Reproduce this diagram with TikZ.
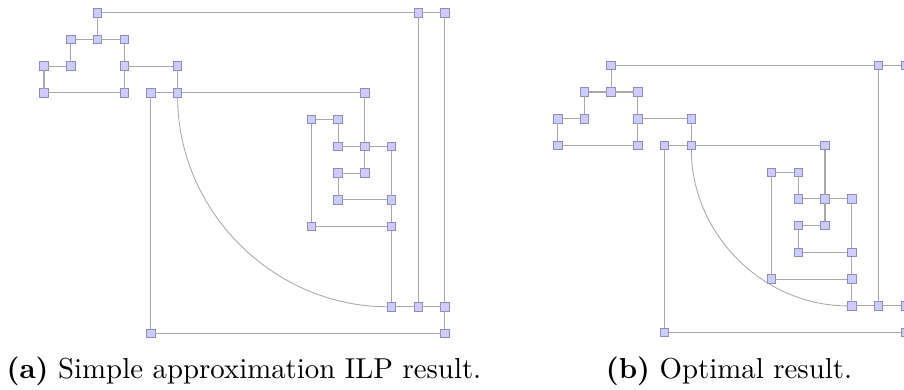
\documentclass[tikz,border=0pt]{standalone}
\usetikzlibrary{calc}
\definecolor{nodefill}{RGB}{204,204,255}
\definecolor{nodeborder}{RGB}{140,140,190}
\definecolor{edgegray}{RGB}{168,168,168}
\newcommand\vx[3]{\node[vtx] (\pfx-#1) at ({\ox+26.73*#2},{\oy+26.73*#3}) {};}
\newcommand\panelEdges{%
  \draw[edge] (\pfx-T) -- (\pfx-R1) -- (\pfx-R2);
  \draw[edge] (\pfx-T) -- (\pfx-A2);
  \draw[edge] (\pfx-A1) -- (\pfx-A2) -- (\pfx-A3);
  \draw[edge] (\pfx-A1) -- (\pfx-B2);
  \draw[edge] (\pfx-B1) -- (\pfx-B2);
  \draw[edge] (\pfx-B1) -- (\pfx-C1) -- (\pfx-C2);
  \draw[edge] (\pfx-A3) -- (\pfx-B3) -- (\pfx-C2);
  \draw[edge] (\pfx-B3) -- (\pfx-B4) -- (\pfx-C4);
  \draw[edge] (\pfx-C3) -- (\pfx-C4) -- (\pfx-C5);
  \draw[edge] (\pfx-C3) -- (\pfx-J1) -- (\pfx-J2) -- (\pfx-I3);
  \draw[arcline] (\pfx-C4) .. controls ($(\pfx-C4)!0.5523!(\pfx-C4 |- \pfx-I1)$) and ($(\pfx-I1)!0.5523!(\pfx-C4 |- \pfx-I1)$) .. (\pfx-I1);
  \draw[edge] (\pfx-I1) -- (\pfx-I2) -- (\pfx-I3);
  \draw[edge] (\pfx-I2) -- (\pfx-R1);
  \draw[edge] (\pfx-I3) -- (\pfx-R2);
  \draw[edge] (\pfx-C5) -- (\pfx-E2);
  \draw[edge] (\pfx-H1) -- (\pfx-D1) -- (\pfx-D2) -- (\pfx-E1);
  \draw[edge] (\pfx-E1) -- (\pfx-E2) -- (\pfx-E3);
  \draw[edge] (\pfx-E3) -- (\pfx-G2) -- (\pfx-H2) -- (\pfx-I1);
  \draw[edge] (\pfx-E2) -- (\pfx-F2) -- (\pfx-F1) -- (\pfx-G1) -- (\pfx-G2);
  \draw[edge] (\pfx-H1) -- (\pfx-H2);
}
\begin{document}
\begin{tikzpicture}[x=0.347pt,y=-0.347pt,
  vtx/.style={draw=nodeborder, fill=nodefill, line width=0.3pt, minimum size=2.95pt, inner sep=0pt, outer sep=0pt},
  edge/.style={draw=edgegray, line width=0.36pt},
  arcline/.style={draw=edgegray, line width=0.3pt},
  captext/.style={anchor=base, inner sep=0pt, font=\normalsize}]
\useasboundingbox (0,0) rectangle (904,390);
% panel (a)
\def\pfx{a}\def\ox{44}\def\oy{12.7}
\vx{T}{2}{0}\vx{R1}{14}{0}\vx{R2}{15}{0}
\vx{A1}{1}{1}\vx{A2}{2}{1}\vx{A3}{3}{1}
\vx{B1}{0}{2}\vx{B2}{1}{2}\vx{B3}{3}{2}\vx{B4}{5}{2}
\vx{C1}{0}{3}\vx{C2}{3}{3}\vx{C3}{4}{3}\vx{C4}{5}{3}\vx{C5}{12}{3}
\vx{D1}{10}{4}\vx{D2}{11}{4}
\vx{E1}{11}{5}\vx{E2}{12}{5}\vx{E3}{13}{5}
\vx{F1}{11}{6}\vx{F2}{12}{6}
\vx{G1}{11}{7}\vx{G2}{13}{7}
\vx{H1}{10}{8}\vx{H2}{13}{8}
\vx{I1}{13}{11}\vx{I2}{14}{11}\vx{I3}{15}{11}
\vx{J1}{4}{12}\vx{J2}{15}{12}
\panelEdges
% panel (b)
\def\pfx{b}\def\ox{557.7}\def\oy{65.3}
\vx{T}{2}{0}\vx{R1}{12}{0}\vx{R2}{13}{0}
\vx{A1}{1}{1}\vx{A2}{2}{1}\vx{A3}{3}{1}
\vx{B1}{0}{2}\vx{B2}{1}{2}\vx{B3}{3}{2}\vx{B4}{5}{2}
\vx{C1}{0}{3}\vx{C2}{3}{3}\vx{C3}{4}{3}\vx{C4}{5}{3}\vx{C5}{10}{3}
\vx{D1}{8}{4}\vx{D2}{9}{4}
\vx{E1}{9}{5}\vx{E2}{10}{5}\vx{E3}{11}{5}
\vx{F1}{9}{6}\vx{F2}{10}{6}
\vx{G1}{9}{7}\vx{G2}{11}{7}
\vx{H1}{8}{8}\vx{H2}{11}{8}
\vx{I1}{11}{9}\vx{I2}{12}{9}\vx{I3}{13}{9}
\vx{J1}{4}{10}\vx{J2}{13}{10}
\panelEdges
% captions
\node[captext] (capa) at (244,379) {\textbf{(a)} Simple approximation ILP result.};
\node[captext] (capb) at (729,379) {\textbf{(b)} Optimal result.};
\end{tikzpicture}
\end{document}
